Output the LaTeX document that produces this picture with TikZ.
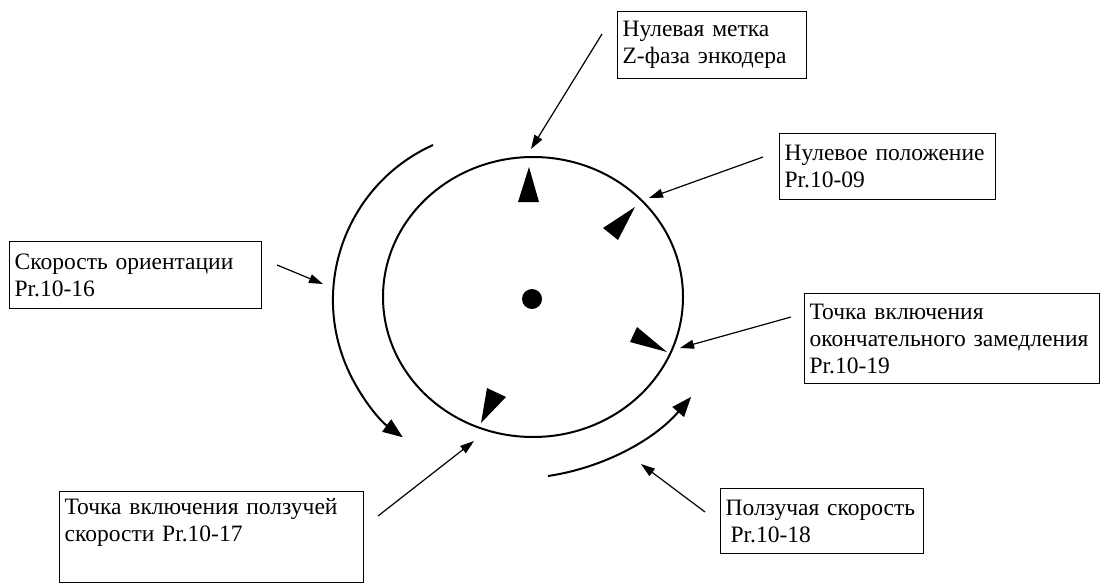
\documentclass[tikz,border=0pt]{standalone}
\usepackage{fontspec}
\setmainfont{Liberation Serif}
\usepackage{tikz}
\usetikzlibrary{arrows.meta, calc}

\begin{document}
\begin{tikzpicture}[
        x=1pt, y=1pt,
        box/.style={
            draw, align=left, anchor=north west, inner xsep=5pt,
            font=\fontsize{23.5}{27}\selectfont, line width=1.2pt
        },
        arrow/.style={line width=1.2pt, -{Triangle[length=14pt, width=9pt]}},
        turn/.style={line width=2pt, -{Triangle[length=20pt, width=15pt]}},
        notch/.style={fill=black}
    ]
        \useasboundingbox (0,0) rectangle (1113,-586);

        % Диск
        \draw[line width=2pt] (533,-297) ellipse [x radius=150pt, y radius=140pt];
        \fill (532,-299) circle [radius=10pt];

        % Метки на диске
        \fill[notch] (529,-167) -- (518,-202) -- (539,-202) -- cycle;
        \fill[notch] (635,-207) -- (603,-228) -- (618,-240) -- cycle;
        \fill[notch] (667,-352) -- (630,-342) -- (637,-327) -- cycle;
        \fill[notch] (481,-423) -- (487,-388) -- (506,-397) -- cycle;

        % Рамки
        \node[box, text width=179pt, minimum height=67pt] (zphase) at (617,-11) {Нулевая метка\\Z-фаза энкодера};
        
        \node[box, text width=206pt, minimum height=66pt] (zeropos) at (779,-133) {Нулевое положение\\Pr.10-09};
        
        \node[box, text width=242pt, minimum height=67pt] (orient) at (9,-241) {Скорость ориентации\\Pr.10-16};
        
        \node[box, text width=285pt, minimum height=90pt] (finaldec) at (804,-293) {Точка включения\\окончательного замедления\\Pr.10-19};
        
        \node[box, text width=294pt, minimum height=91pt] (creeppt) at (59,-491) {Точка включения ползучей\\скорости Pr.10-17\\\strut};
        
        \node[box, text width=193pt, minimum height=65pt] (creep) at (720,-488) {Ползучая скорость\\\hspace*{5pt}Pr.10-18};

        % Концы стрелок
        \coordinate (zphase-s) at (602,-34);
        \coordinate (zphase-t) at (531,-149);
        \coordinate (zeropos-s) at (763,-157);
        \coordinate (zeropos-t) at (649,-198);
        \coordinate (orient-s) at (277,-265);
        \coordinate (orient-t) at (323,-284);
        \coordinate (finaldec-s) at (791,-317);
        \coordinate (finaldec-t) at (680,-348);
        \coordinate (creeppt-s) at (378,-516);
        \coordinate (creeppt-t) at (474,-441);
        \coordinate (creep-s) at (705,-512);
        \coordinate (creep-t) at (641,-464);
        \coordinate (orbit-l) at (433,-145);
        \coordinate (orbit-r) at (548,-476);

        % Стрелки
        \draw[arrow] (zphase-s) -- (zphase-t);
        \draw[arrow] (zeropos-s) -- (zeropos-t);
        \draw[arrow] (orient-s) -- (orient-t);
        \draw[arrow] (finaldec-s) -- (finaldec-t);
        \draw[arrow] (creeppt-s) -- (creeppt-t);
        \draw[arrow] (creep-s) -- (creep-t);

        % Направление вращения
        \draw[turn] (orbit-l) arc[start angle=114.3, end angle=233.9, radius=170pt];
        \draw[turn] (orbit-r) arc[start angle=-81.6, end angle=-40.5, radius=233pt];

    \end{tikzpicture}
\end{document}
